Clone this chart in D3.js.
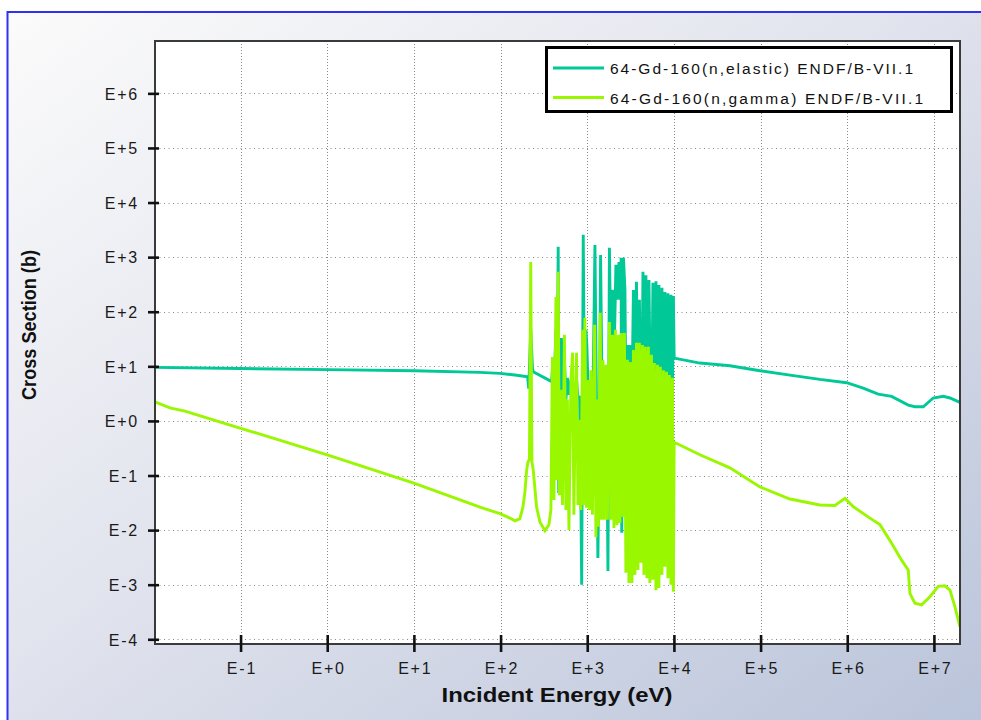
<!DOCTYPE html>
<html><head><meta charset="utf-8">
<script src="https://cdn.jsdelivr.net/npm/d3@7"></script>
<style>
html,body{margin:0;padding:0;background:#fff;}
svg{display:block;}
text{font-family:"Liberation Sans",Arial,Helvetica,sans-serif;}
</style></head><body>
<svg id="chart" width="981" height="720"></svg>
<script>
// ---- data ----
const seriesNames = ["64-Gd-160(n,elastic) ENDF/B-VII.1", "64-Gd-160(n,gamma) ENDF/B-VII.1"];
const xTickExp = [-1, 0, 1, 2, 3, 4, 5, 6, 7];
const xTickLabels = ["E-1", "E+0", "E+1", "E+2", "E+3", "E+4", "E+5", "E+6", "E+7"];
const yTickExp = [-4, -3, -2, -1, 0, 1, 2, 3, 4, 5, 6];
const yTickLabels = ["E-4", "E-3", "E-2", "E-1", "E+0", "E+1", "E+2", "E+3", "E+4", "E+5", "E+6"];
const xLabel = "Incident Energy (eV)";
const yLabel = "Cross Section (b)";

// points as [log10(E / eV), log10(sigma / b)]
const elasticPts = [
[-1.988,0.98],[-1.007,0.96],[0,0.94],[1.000,0.92],[1.762,0.89],[1.993,0.87],[2.166,0.84],[2.312,0.81],[2.325,0.59],[2.348,1.67],[2.368,0.97],[2.377,0.90],[2.589,0.72],
[2.598,0.93],[2.616,0.57],[2.639,1.67],[2.654,0.39],[2.665,3.19],[2.671,-1.32],[2.685,0.02],[2.702,1.52],[2.720,0.48],[2.737,1.12],[2.754,0.39],[2.771,0.79],[2.789,0.48],[2.812,0.75],[2.831,0.39],[2.846,0.48],[2.877,0.75],[2.893,0.39],[2.910,0.46],[2.921,-0.44],[2.936,-3.00],[2.954,3.41],[2.968,0.39],[2.985,1.67],[2.996,1.36],[3.014,0.39],[3.031,0.66],[3.048,-0.71],[3.066,0.39],[3.089,3.22],[3.106,0.39],[3.123,-2.51],[3.141,0.02],[3.154,3.04],[3.169,0.79],[3.187,0.88],[3.204,0.57],[3.221,0.75],[3.239,-2.75],[3.256,3.17],[3.273,1.12],[3.296,2.40],[3.314,1.48],[3.331,2.86],[3.348,2.22],[3.366,2.91],[3.383,2.22],[3.391,2.99],[3.398,-2.05],[3.406,2.22],[3.418,2.99],[3.435,2.40],[3.446,0.39],[3.464,1.39],[3.481,0.39],[3.498,1.39],[3.516,0.39],[3.533,2.40],[3.550,0.39],[3.568,2.55],[3.585,0.39],[3.602,2.22],[3.625,-0.68],[3.643,2.73],[3.660,0.39],[3.677,2.67],[3.694,0.39],[3.712,2.58],[3.729,0.39],[3.741,-0.22],[3.758,2.53],[3.775,0.39],[3.793,2.56],[3.810,0.39],[3.827,2.49],[3.844,0.39],[3.862,2.44],[3.879,0.39],[3.896,2.36],[3.914,0.39],[3.931,2.34],[3.948,0.39],[3.966,2.31],[3.983,0.39],[3.994,2.29],[4.003,1.15],
[4.300,1.06],[4.646,1.01],[4.993,0.92],[5.339,0.84],[5.685,0.76],[5.993,0.70],[6.184,0.60],[6.357,0.49],[6.512,0.45],[6.704,0.29],[6.781,0.26],[6.877,0.26],[6.992,0.42],[7.108,0.45],[7.185,0.42],[7.300,0.34]
];
const gammaPts = [
[-1.988,0.35],[-1.815,0.24],[-1.642,0.18],[-1.007,-0.13],[0,-0.62],[1.000,-1.14],[1.762,-1.58],[1.993,-1.70],[2.108,-1.78],[2.166,-1.83],[2.223,-1.79],[2.258,-1.58],[2.281,-1.30],[2.301,-0.90],[2.316,-0.75],[2.333,-0.71],[2.348,2.91],[2.362,-0.75],[2.377,-0.90],[2.416,-1.58],[2.454,-1.85],[2.512,-2.01],[2.558,-1.90],[2.581,-1.63],
[2.598,1.17],[2.616,-1.45],[2.639,2.27],[2.650,-1.08],[2.665,2.73],[2.679,-1.36],[2.696,0.57],[2.714,-1.54],[2.737,1.58],[2.754,-1.63],[2.771,0.39],[2.789,-2.00],[2.812,0.75],[2.831,1.25],[2.846,-1.72],[2.864,0.39],[2.877,1.25],[2.893,-1.54],[2.910,0.02],[2.927,-1.63],[2.947,1.67],[2.956,-1.54],[2.973,1.89],[2.991,-1.59],[3.008,0.75],[3.025,-1.63],[3.043,0.93],[3.060,-1.72],[3.085,1.76],[3.100,-2.13],[3.118,0.39],[3.129,-1.94],[3.150,1.98],[3.164,-1.81],[3.181,1.12],[3.198,-1.81],[3.216,1.03],[3.233,-1.81],[3.256,1.81],[3.273,-1.81],[3.290,1.58],[3.308,-1.96],[3.325,1.67],[3.343,-1.91],[3.360,1.58],[3.377,-1.87],[3.394,1.61],[3.412,-1.76],[3.429,1.61],[3.446,-2.78],[3.464,1.12],[3.481,-2.97],[3.498,1.08],[3.516,-2.97],[3.533,1.30],[3.550,-2.82],[3.568,1.43],[3.585,-2.73],[3.602,1.43],[3.620,-2.60],[3.637,1.39],[3.654,-2.82],[3.671,1.36],[3.689,-2.88],[3.706,1.36],[3.723,-2.97],[3.741,1.21],[3.758,-2.91],[3.775,1.06],[3.793,-3.10],[3.810,1.03],[3.827,-3.06],[3.844,0.99],[3.862,-2.82],[3.879,0.93],[3.896,-2.67],[3.914,0.90],[3.931,-2.88],[3.948,0.84],[3.966,-3.00],[3.983,0.79],[3.994,-3.13],[4.003,-0.39],
[4.300,-0.62],[4.646,-0.86],[4.993,-1.21],[5.339,-1.43],[5.685,-1.54],[5.858,-1.55],[5.973,-1.42],[6.069,-1.57],[6.262,-1.78],[6.377,-1.90],[6.512,-2.24],[6.627,-2.55],[6.704,-2.73],[6.723,-3.16],[6.781,-3.34],[6.858,-3.37],[6.954,-3.22],[7.050,-3.03],[7.127,-3.02],[7.185,-3.10],[7.242,-3.40],[7.300,-3.77]
];

// ---- layout / style ----
const colors = ["#00c896", "#99f700"];
const P = {left:155, top:41, right:960, bottom:644};
const svg = d3.select("#chart");

const defs = svg.append("defs");
const grad = defs.append("linearGradient").attr("id","bg").attr("x1","0").attr("y1","0").attr("x2","1").attr("y2","1");
grad.append("stop").attr("offset","0").attr("stop-color","#fbfbfb");
grad.append("stop").attr("offset","0.45").attr("stop-color","#e2e4ee");
grad.append("stop").attr("offset","1").attr("stop-color","#bac4da");
defs.append("clipPath").attr("id","clip").append("rect")
  .attr("x",P.left).attr("y",P.top).attr("width",P.right-P.left).attr("height",P.bottom-P.top);

svg.append("rect").attr("width",981).attr("height",720).attr("fill","#fff");
svg.append("rect").attr("x",8).attr("y",12).attr("width",973).attr("height",708).attr("fill","url(#bg)");
svg.append("line").attr("x1",7).attr("x2",981).attr("y1",12).attr("y2",12).attr("stroke","#3030f0").attr("stroke-width",2);
svg.append("line").attr("x1",7.5).attr("x2",7.5).attr("y1",11).attr("y2",720).attr("stroke","#3030f0").attr("stroke-width",2);

svg.append("rect").attr("x",P.left).attr("y",P.top).attr("width",P.right-P.left).attr("height",P.bottom-P.top).attr("fill","#fff");

const x = d3.scaleLog().domain([0.0103, 2.0e7]).range([P.left, P.right]);
const y = d3.scaleLog().domain([8.2e-5, 9.1e6]).range([P.bottom, P.top]);

// grid
const g = svg.append("g").attr("clip-path","url(#clip)");
g.selectAll(".vg").data(xTickExp).join("line")
  .attr("x1",d=>Math.round(x(10**d))+0.5).attr("x2",d=>Math.round(x(10**d))+0.5)
  .attr("y1",P.top).attr("y2",P.bottom)
  .attr("stroke","#8a8a8a").attr("stroke-width",1).attr("stroke-dasharray","1,2");
g.selectAll(".hg").data(yTickExp).join("line")
  .attr("y1",d=>Math.round(y(10**d))+0.5).attr("y2",d=>Math.round(y(10**d))+0.5)
  .attr("x1",P.left).attr("x2",P.right)
  .attr("stroke","#8a8a8a").attr("stroke-width",1).attr("stroke-dasharray","1,3.5");

// data lines
const line = d3.line().x(d=>x(10**d[0])).y(d=>y(10**d[1]));
[elasticPts, gammaPts].forEach((pts,i)=>{
  g.append("path").datum(pts).attr("d",line).attr("fill","none")
   .attr("stroke",colors[i]).attr("stroke-width",2.9);
});

// frame
svg.append("rect").attr("x",P.left).attr("y",P.top).attr("width",P.right-P.left).attr("height",P.bottom-P.top)
  .attr("fill","none").attr("stroke","#3a3a3a").attr("stroke-width",2);

// axes
const fs = 16, ls = 1.8;
const yAxis = d3.axisLeft(y).tickValues(yTickExp.map(e=>10**e)).tickFormat((d,i)=>yTickLabels[i]).tickSize(7).tickPadding(9);
const ya = svg.append("g").attr("transform",`translate(${P.left},0)`).call(yAxis);
ya.select(".domain").remove();
ya.selectAll(".tick line").attr("x1",4).attr("x2",-7).attr("stroke","#111").attr("stroke-width",2.6);
ya.selectAll(".tick text").attr("font-size",fs).attr("letter-spacing",ls+"px").attr("fill","#1a1a1a")
  .attr("font-family","'Liberation Sans',Arial,sans-serif").attr("dy","0.36em");

const xAxis = d3.axisBottom(x).tickValues(xTickExp.map(e=>10**e)).tickFormat((d,i)=>xTickLabels[i]).tickSize(8);
const xa = svg.append("g").attr("transform",`translate(0,${P.bottom})`).call(xAxis);
xa.select(".domain").remove();
xa.selectAll(".tick line").attr("y1",-9).attr("y2",8).attr("stroke","#111").attr("stroke-width",2.6);
xa.selectAll(".tick text").attr("font-size",fs).attr("letter-spacing",ls+"px").attr("fill","#1a1a1a")
  .attr("font-family","'Liberation Sans',Arial,sans-serif").attr("y",29.5).attr("dy",0).attr("dx",ls/2);

// axis titles
svg.append("text").attr("x",557).attr("y",702).attr("text-anchor","middle")
  .attr("font-size",21).attr("font-weight","bold").attr("fill","#111")
  .attr("textLength",231).attr("lengthAdjust","spacingAndGlyphs").text(xLabel);
svg.append("text").attr("transform","translate(36,325) rotate(-90)").attr("text-anchor","middle")
  .attr("font-size",20).attr("font-weight","bold").attr("fill","#111")
  .attr("textLength",150).attr("lengthAdjust","spacingAndGlyphs").text(yLabel);

// legend
const lg = svg.append("g");
lg.append("rect").attr("x",546.5).attr("y",47.5).attr("width",405).attr("height",64)
  .attr("fill","#fff").attr("stroke","#000").attr("stroke-width",3);
const legY = [68, 97.5], legLen = [303, 313];
seriesNames.forEach((n,i)=>{
  lg.append("line").attr("x1",553).attr("x2",604).attr("y1",legY[i]).attr("y2",legY[i])
    .attr("stroke",colors[i]).attr("stroke-width",3);
  lg.append("text").attr("x",610).attr("y",legY[i]+6).attr("font-size",15.5).attr("fill","#111")
    .attr("textLength",legLen[i]).attr("lengthAdjust","spacing").text(n);
});
</script>
</body></html>
